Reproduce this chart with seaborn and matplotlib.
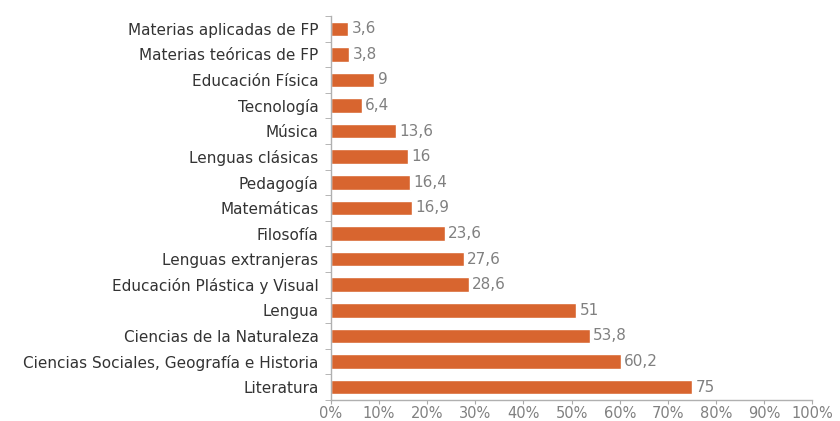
import seaborn as sns
import matplotlib.pyplot as plt
import pandas as pd
import numpy as np
from matplotlib.ticker import FixedLocator

subjects = [
    'Materias aplicadas de FP',
    'Materias teóricas de FP',
    'Educación Física',
    'Tecnología',
    'Música',
    'Lenguas clásicas',
    'Pedagogía',
    'Matemáticas',
    'Filosofía',
    'Lenguas extranjeras',
    'Educación Plástica y Visual',
    'Lengua',
    'Ciencias de la Naturaleza',
    'Ciencias Sociales, Geografía e Historia',
    'Literatura',
]
percent = [3.6, 3.8, 9, 6.4, 13.6, 16, 16.4, 16.9, 23.6, 27.6, 28.6, 51, 53.8, 60.2, 75]
value_labels = ['3,6', '3,8', '9', '6,4', '13,6', '16', '16,4', '16,9', '23,6',
                '27,6', '28,6', '51', '53,8', '60,2', '75']
x_ticks = list(range(0, 101, 10))

df = pd.DataFrame({'subject': subjects, 'percent': percent})

sns.set_style('white')
plt.rcParams['font.family'] = ['DejaVu Sans']

fig = plt.figure(figsize=(8.4, 4.21), dpi=100)
ax = fig.add_axes([0.394, 0.05, 0.573, 0.912])

sns.barplot(data=df, x='percent', y='subject', color='#D8652F', saturation=1,
            width=0.57, ax=ax, orient='h')

for i, (v, lab) in enumerate(zip(percent, value_labels)):
    ax.text(v + 0.7, i, lab, va='center', ha='left', fontsize=11, color='#808080')

ax.set_xlim(0, 100)
ax.set_ylim(len(subjects) - 0.5, -0.5)
ax.set_xticks(x_ticks)
ax.set_xticklabels([f'{t}%' for t in x_ticks], fontsize=10.5, color='#808080')
ax.set_xlabel('')
ax.set_ylabel('')
ax.tick_params(axis='y', which='major', length=0, labelsize=11, labelcolor='#333333', pad=9)
ax.yaxis.set_minor_locator(FixedLocator(np.arange(-0.5, len(subjects), 1)))
ax.tick_params(axis='y', which='minor', length=4, color='#aaaaaa', direction='out', left=True)
ax.tick_params(axis='x', length=3, color='#aaaaaa', direction='out', bottom=True, pad=1)

for side in ['top', 'right']:
    ax.spines[side].set_visible(False)
for side in ['left', 'bottom']:
    ax.spines[side].set_color('#b0b0b0')
    ax.spines[side].set_linewidth(1)

plt.savefig('out.png', dpi=100)
